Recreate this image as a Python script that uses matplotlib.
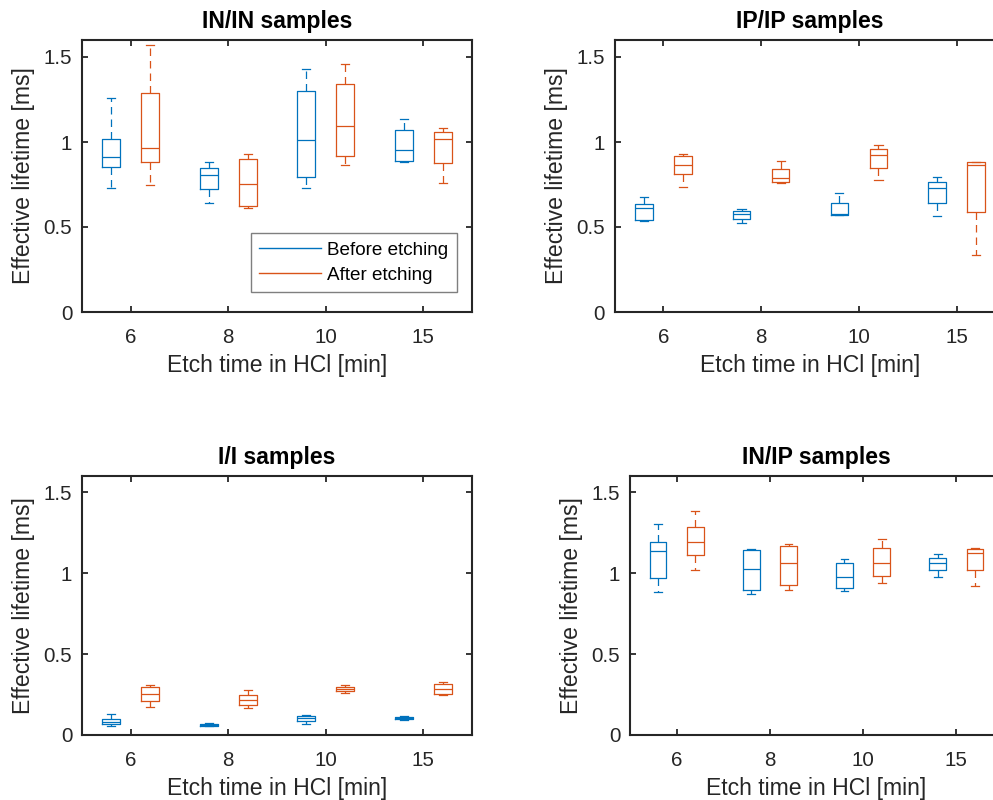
import matplotlib
matplotlib.use("Agg")
import matplotlib.pyplot as plt
from matplotlib.lines import Line2D

plt.rcParams['font.family'] = ['Liberation Sans', 'DejaVu Sans']

etch_times = ['6', '8', '10', '15']
series_names = ['Before etching', 'After etching']
titles = ['IN/IN samples', 'IP/IP samples', 'I/I samples', 'IN/IP samples']

# box stats: whisker low, q1, median, q3, whisker high  (one list per etch time)
inin_before = [[0.729, 0.853, 0.912, 1.020, 1.261],
               [0.639, 0.722, 0.808, 0.845, 0.880],
               [0.729, 0.796, 1.014, 1.298, 1.427],
               [0.880, 0.890, 0.955, 1.071, 1.133]]
inin_after = [[0.745, 0.884, 0.963, 1.286, 1.569],
              [0.610, 0.622, 0.753, 0.902, 0.927],
              [0.867, 0.918, 1.092, 1.339, 1.461],
              [0.759, 0.878, 1.016, 1.059, 1.084]]
ipip_before = [[0.533, 0.539, 0.610, 0.633, 0.678],
               [0.524, 0.547, 0.576, 0.596, 0.608],
               [0.573, 0.573, 0.575, 0.639, 0.702],
               [0.567, 0.639, 0.727, 0.767, 0.792]]
ipip_after = [[0.733, 0.814, 0.863, 0.916, 0.931],
              [0.759, 0.765, 0.786, 0.843, 0.886],
              [0.775, 0.847, 0.922, 0.957, 0.984],
              [0.337, 0.590, 0.863, 0.880, 0.880]]
ii_before = [[0.053, 0.068, 0.078, 0.100, 0.131],
             [0.056, 0.058, 0.064, 0.070, 0.074],
             [0.068, 0.084, 0.105, 0.117, 0.121],
             [0.092, 0.099, 0.107, 0.113, 0.119]]
ii_after = [[0.170, 0.207, 0.255, 0.294, 0.308],
            [0.166, 0.183, 0.216, 0.249, 0.281],
            [0.261, 0.273, 0.285, 0.298, 0.308],
            [0.246, 0.254, 0.285, 0.314, 0.325]]
inip_before = [[0.885, 0.969, 1.134, 1.191, 1.304],
               [0.869, 0.898, 1.027, 1.142, 1.148],
               [0.887, 0.906, 0.978, 1.060, 1.086],
               [0.978, 1.018, 1.062, 1.095, 1.121]]
inip_after = [[1.018, 1.109, 1.191, 1.283, 1.384],
              [0.898, 0.928, 1.060, 1.169, 1.179],
              [0.941, 0.980, 1.062, 1.156, 1.210],
              [0.920, 1.018, 1.126, 1.148, 1.154]]

panels = [(inin_before, inin_after), (ipip_before, ipip_after),
          (ii_before, ii_after), (inip_before, inip_after)]

yticks = [0, 0.5, 1, 1.5]
ytick_labels = ['0', '0.5', '1', '1.5']

BLUE = '#0072BD'
ORANGE = '#D95319'
W, H = 993, 800

fig = plt.figure(figsize=(9.93, 8.0), dpi=100)

# axes rectangles in pixels: left, top, right, bottom
rects = [(82, 40, 472, 312), (614.5, 40, 1005.5, 312),
         (82, 476, 472, 735), (630, 476, 1003, 735)]

def stats_from(rows):
    out = []
    for r in rows:
        out.append(dict(whislo=r[0], q1=r[1], med=r[2], q3=r[3], whishi=r[4], fliers=[]))
    return out

TFS = 14.8   # tick labels
LFS = 16.6   # axis labels / title
for i, ((before, after), (l, t, r, b)) in enumerate(zip(panels, rects)):
    ax = fig.add_axes([l / W, 1 - b / H, (r - l) / W, (b - t) / H])
    n = len(etch_times)
    base = list(range(1, n + 1))
    for data, col, off in ((before, BLUE, -0.2), (after, ORANGE, 0.2)):
        pos = [p + off for p in base]
        ax.bxp(stats_from(data), positions=pos, widths=0.18, capwidths=0.085,
               showfliers=False, manage_ticks=False,
               boxprops=dict(color=col, linewidth=0.9),
               medianprops=dict(color=col, linewidth=0.9),
               whiskerprops=dict(color=col, linewidth=0.9, linestyle=(0, (6, 4))),
               capprops=dict(color=col, linewidth=0.9))
    ax.set_xlim(0.5, n + 0.5)
    ax.set_ylim(0, 1.6)
    ax.set_xticks(base)
    ax.set_xticklabels(etch_times)
    ax.set_yticks(yticks)
    ax.set_yticklabels(ytick_labels)
    ax.tick_params(direction='in', length=4, width=1.3, labelsize=TFS,
                   top=True, right=True, colors='#262626')
    ax.tick_params(axis='x', pad=11.5)
    ax.tick_params(axis='y', pad=7)
    for s in ax.spines.values():
        s.set_linewidth(1.5)
        s.set_color('#262626')
    ax.set_xlabel('Etch time in HCl [min]', fontsize=LFS, color='#262626', labelpad=5)
    ax.set_ylabel('Effective lifetime [ms]', fontsize=LFS, color='#262626', labelpad=6)
    ax.set_title(titles[i], fontsize=LFS, fontweight='bold', color='black', pad=8.5)
    if i == 0:
        handles = [Line2D([], [], color=BLUE, lw=1.0), Line2D([], [], color=ORANGE, lw=1.0)]
        leg = ax.legend(handles, series_names, loc='lower right',
                        bbox_to_anchor=(0.961, 0.072), borderaxespad=0,
                        fontsize=13.6, handlelength=3.3, handletextpad=0.3,
                        fancybox=False, framealpha=1, edgecolor='#7f7f7f',
                        borderpad=0.45, labelspacing=0.42)
        leg.get_frame().set_linewidth(1.0)

fig.savefig('out.png', dpi=100)
